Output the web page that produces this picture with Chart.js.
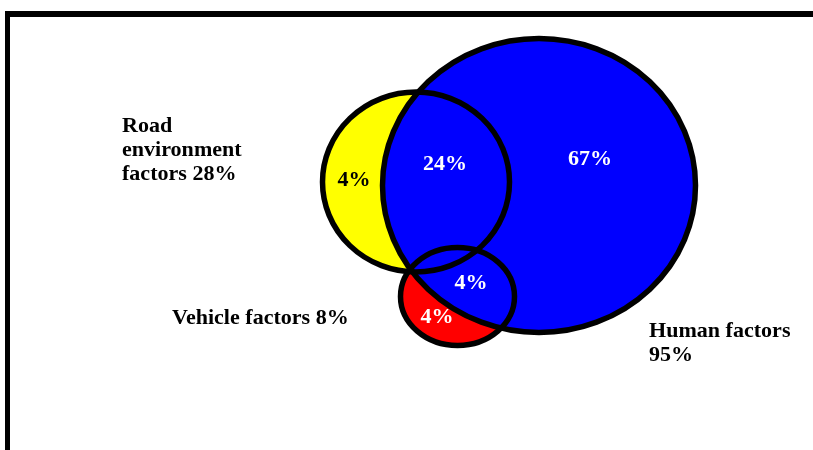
<!DOCTYPE html>
<html>
<head>
<meta charset="utf-8">
<script src="https://cdn.jsdelivr.net/npm/chart.js@4/dist/chart.umd.min.js"></script>
<style>
  html, body { margin: 0; padding: 0; background: #fff; }
  canvas { display: block; }
</style>
</head>
<body>
<canvas id="venn" width="813" height="450"></canvas>
<script>
// Sets of the Venn diagram (share of accidents, %)
const setNames = ['Road environment factors', 'Vehicle factors', 'Human factors'];
const setTotals = [28, 8, 95];
const setColors = ['#ffff00', '#ff0000', '#0000ff'];

// Circle geometry per set, in chart units (centre and half axes)
const circleX = [416, 457.5, 539];
const circleY = [182, 296.5, 185.5];
const circleRX = [93.5, 57, 156.5];
const circleRY = [90, 49, 147];

// Regions of the diagram and their values
const regionNames = ['Road only', 'Road + Human', 'Human only', 'Vehicle + Human', 'Vehicle only'];
const regionValues = [4, 24, 67, 4, 4];
const regionX = [354, 445, 590, 471, 437];
const regionY = [181, 165, 160, 284, 318];
const regionTextColors = ['#000000', '#ffffff', '#ffffff', '#ffffff', '#ffffff'];

// Set captions outside the circles
const captionLines = [
    ['Road', 'environment', 'factors ' + setTotals[0] + '%'],
    ['Vehicle factors ' + setTotals[1] + '%'],
    ['Human factors', setTotals[2] + '%']
];
const captionX = [122, 172, 649];
const captionY = [132, 324, 337];
const lineStep = 24;

const FONT = 'bold 21px "Liberation Serif", "Times New Roman", serif';
const WIDEN = 1.05;

// frame line along top and left
const framePlugin = {
    id: 'frame',
    beforeDraw(chart) {
        const ctx = chart.ctx;
        ctx.save();
        ctx.fillStyle = '#fff';
        ctx.fillRect(0, 0, chart.width, chart.height);
        ctx.fillStyle = '#000';
        ctx.fillRect(5, 11, chart.width - 5, 6);
        ctx.fillRect(5, 11, 5, chart.height - 11);
        ctx.restore();
    }
};

function wideText(ctx, text, x, y) {
    ctx.save();
    ctx.translate(x, y);
    ctx.scale(WIDEN, 1);
    ctx.fillText(text, 0, 0);
    ctx.restore();
}

// draws the circles: all fills first, then all outlines
const vennPlugin = {
    id: 'venn',
    afterDatasetsDraw(chart) {
        const ctx = chart.ctx;
        const xs = chart.scales.x, ys = chart.scales.y;
        const shapes = chart.data.datasets.map(ds => {
            const p = ds.data[0];
            const cx = xs.getPixelForValue(p.x);
            const cy = ys.getPixelForValue(p.y);
            return {
                cx, cy,
                rx: Math.abs(xs.getPixelForValue(p.x + ds.radiusX) - cx),
                ry: Math.abs(ys.getPixelForValue(p.y + ds.radiusY) - cy),
                color: ds.backgroundColor
            };
        });
        ctx.save();
        shapes.forEach(s => {
            ctx.beginPath();
            ctx.ellipse(s.cx, s.cy, s.rx, s.ry, 0, 0, Math.PI * 2);
            ctx.fillStyle = s.color;
            ctx.fill();
        });
        ctx.lineWidth = 5.5;
        ctx.strokeStyle = '#000';
        shapes.forEach(s => {
            ctx.beginPath();
            ctx.ellipse(s.cx, s.cy, s.rx, s.ry, 0, 0, Math.PI * 2);
            ctx.stroke();
        });

        ctx.font = FONT;
        ctx.textAlign = 'center';
        ctx.textBaseline = 'middle';
        regionValues.forEach((v, i) => {
            ctx.fillStyle = regionTextColors[i];
            wideText(ctx, v + '%', xs.getPixelForValue(regionX[i]), ys.getPixelForValue(regionY[i]));
        });

        ctx.textAlign = 'left';
        ctx.textBaseline = 'alphabetic';
        ctx.fillStyle = '#000';
        captionLines.forEach((lines, i) => {
            lines.forEach((line, j) => {
                wideText(ctx, line, xs.getPixelForValue(captionX[i]),
                    ys.getPixelForValue(captionY[i] + j * lineStep));
            });
        });
        ctx.restore();
    }
};

new Chart(document.getElementById('venn'), {
    type: 'scatter',
    data: {
        datasets: setNames.map((name, i) => ({
            label: name,
            data: [{ x: circleX[i], y: circleY[i] }],
            radiusX: circleRX[i],
            radiusY: circleRY[i],
            backgroundColor: setColors[i],
            pointRadius: 0
        }))
    },
    options: {
        responsive: false,
        animation: false,
        layout: { padding: 0 },
        scales: {
            x: { type: 'linear', min: 0, max: 813, display: false },
            y: { type: 'linear', min: 0, max: 450, reverse: true, display: false }
        },
        plugins: {
            legend: { display: false },
            tooltip: { enabled: false }
        }
    },
    plugins: [framePlugin, vennPlugin]
});
</script>
</body>
</html>
